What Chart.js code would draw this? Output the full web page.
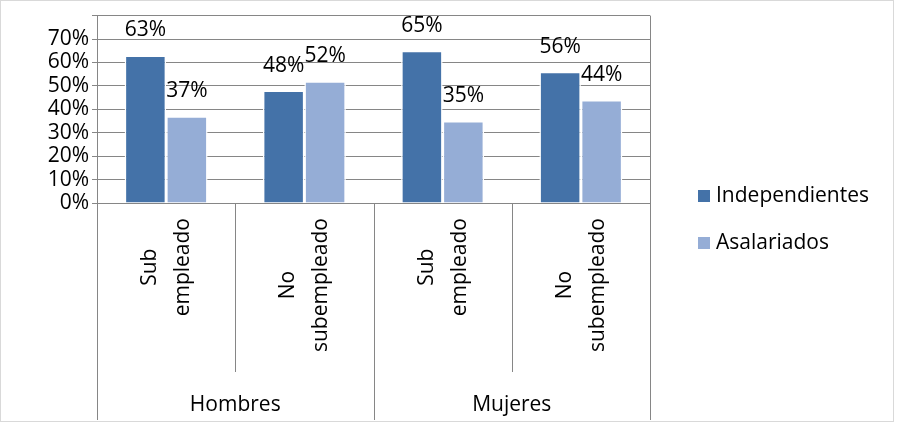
<!DOCTYPE html>
<html>
<head>
<meta charset="utf-8">
<script src="https://cdn.jsdelivr.net/npm/chart.js@4"></script>
<style>
  body { margin: 0; background: #fff; }
  #wrap { width: 901px; height: 431px; position: relative; }
</style>
</head>
<body>
<div id="wrap"><canvas id="chart"></canvas></div>
<script>
// data
const subCategories = [['Sub', 'empleado'], ['No', 'subempleado'], ['Sub', 'empleado'], ['No', 'subempleado']];
const groups = ['Hombres', 'Mujeres'];
const independientes = [0.63, 0.48, 0.65, 0.56];
const asalariados = [0.37, 0.52, 0.35, 0.44];
const seriesNames = ['Independientes', 'Asalariados'];
const seriesColors = ['#4472A8', '#95ADD6'];

const FONT = '"Open Sans", "Liberation Sans", sans-serif';
const FS = 21;

const decor = {
    id: 'decor',
    afterDatasetsDraw(chart) {
        const ctx = chart.ctx;
        const area = chart.chartArea;
        const x = chart.scales.x;
        ctx.save();
        // value labels
        ctx.fillStyle = '#000';
        ctx.font = FS + 'px ' + FONT;
        ctx.textAlign = 'center';
        ctx.textBaseline = 'middle';
        chart.data.datasets.forEach((ds, i) => {
            chart.getDatasetMeta(i).data.forEach((bar, j) => {
                ctx.fillText(Math.round(ds.data[j] * 100) + '%', bar.x, bar.y - 25);
            });
        });
        // plot frame right
        ctx.strokeStyle = '#868686';
        ctx.lineWidth = 1;
        ctx.beginPath();
        ctx.moveTo(area.right + 0.5, area.top);
        ctx.lineTo(area.right + 0.5, area.bottom);
        ctx.stroke();
        // category separators
        const n = subCategories.length;
        const step = (area.right - area.left) / n;
        for (let k = 0; k <= n; k++) {
            const px = Math.round(area.left + k * step) + 0.5;
            const bottom = (k % 2 === 0) ? 420 : 372;
            ctx.beginPath();
            ctx.moveTo(px, area.bottom);
            ctx.lineTo(px, bottom);
            ctx.stroke();
        }
        // rotated sub-category labels, longest line starts just under the axis
        ctx.textAlign = 'center';
        ctx.textBaseline = 'middle';
        subCategories.forEach((lines, j) => {
            const cx = x.getPixelForValue(j);
            const longest = Math.max(...lines.map(t => ctx.measureText(t).width));
            const cy = 218 + longest / 2;
            lines.forEach((t, l) => {
                ctx.save();
                ctx.translate(cx - 16 + l * 33, cy);
                ctx.rotate(-Math.PI / 2);
                ctx.fillText(t, 0, 0);
                ctx.restore();
            });
        });
        // group labels
        groups.forEach((g, k) => {
            ctx.fillText(g, area.left + (2 * k + 1) * step, 405);
        });
        // legend
        ctx.textAlign = 'left';
        seriesNames.forEach((s, i) => {
            const ly = 196 + i * 47;
            ctx.fillStyle = seriesColors[i];
            ctx.fillRect(698, ly - 6, 12, 12);
            ctx.fillStyle = '#000';
            ctx.fillText(s, 716, ly);
        });
        // outer border
        ctx.strokeStyle = '#d9d9d9';
        ctx.strokeRect(0.5, 0.5, 893, 421);
        ctx.restore();
    }
};

new Chart(document.getElementById('chart'), {
    type: 'bar',
    data: {
        labels: subCategories.map(l => l.join(' ')),
        datasets: [
            { label: seriesNames[0], data: independientes, backgroundColor: seriesColors[0] },
            { label: seriesNames[1], data: asalariados, backgroundColor: seriesColors[1] }
        ]
    },
    options: {
        responsive: true,
        maintainAspectRatio: false,
        animation: false,
        devicePixelRatio: 1,
        layout: { padding: { left: 0, top: 12, right: 251, bottom: 228 } },
        datasets: { bar: { categoryPercentage: 0.6, barPercentage: 1, borderColor: '#fff', borderWidth: 1.5 } },
        plugins: { legend: { display: false }, tooltip: { enabled: false } },
        scales: {
            x: { display: false },
            y: {
                min: 0, max: 0.8,
                afterFit(scale) { scale.width = 97; },
                border: { color: '#868686' },
                grid: { color: '#868686', drawTicks: true, tickLength: 5 },
                ticks: {
                    stepSize: 0.1,
                    autoSkip: false,
                    color: '#000',
                    padding: 3,
                    font: { family: FONT, size: FS },
                    callback: v => v > 0.75 ? '' : Math.round(v * 100) + '%'
                }
            }
        }
    },
    plugins: [decor]
});
</script>
</body>
</html>
